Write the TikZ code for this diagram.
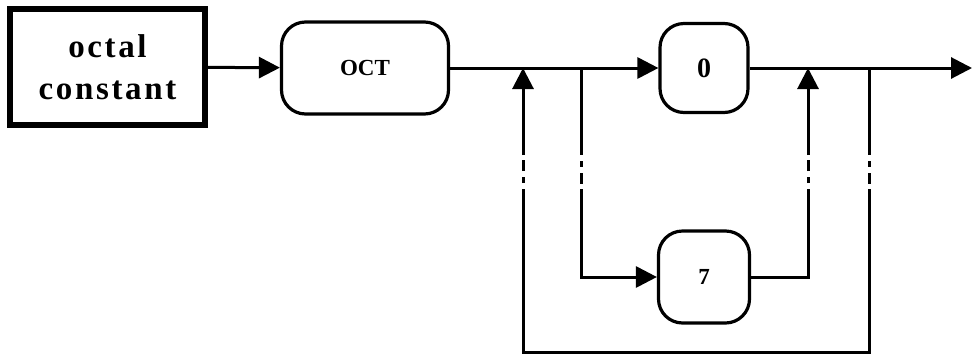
\documentclass[tikz,border=0pt]{standalone}
\usepackage{fontspec}
\setmainfont{Liberation Serif}
\newfontfamily\spacedfont[LetterSpace=8]{Liberation Serif}
\usetikzlibrary{arrows.meta}
\tikzset{
  defbox/.style={draw,line width=5.5pt,minimum width=195pt,minimum height=116pt,align=center,inner sep=0pt,font=\spacedfont\bfseries\fontsize{33}{42}\selectfont},
  term/.style={draw,line width=3.2pt,rounded corners=24pt,inner sep=0pt,font=\bfseries\fontsize{23}{26}\selectfont},
  arr/.style={-{Triangle[length=21pt,width=21pt]},line width=3pt},
  line/.style={line width=3pt},
  gap/.style={line width=3pt,dash pattern=on 0pt off 6pt on 6pt off 6pt on 11pt off 5pt},
}

\begin{document}
\begin{tikzpicture}[x=1pt,y=-1pt]
    \useasboundingbox (0,0) rectangle (973,357);
    % boxes
    \node[defbox] (oc) at (107.5,67) {octal\\constant};
    \node[term,minimum width=167pt,minimum height=92pt] (oct) at (365,68) {OCT};
    \node[term,minimum width=88pt,minimum height=89pt,font=\bfseries\fontsize{28}{30}\selectfont] (zero) at (704,68) {0};
    \node[term,minimum width=91pt,minimum height=92pt] (seven) at (704,277) {7};
    % junctions
    \coordinate (j1) at (523,68);
    \coordinate (j2) at (581,68);
    \coordinate (j3) at (808,68);
    \coordinate (j4) at (869,68);
    \coordinate (out) at (972,68);
    \coordinate (cut1) at (0,155);
    \coordinate (cut2) at (0,189);
    \coordinate (b1) at (523,352);
    \coordinate (b4) at (869,352);
    % main line
    \draw[arr] (oc) -- (oct);
    \draw[line] (oct) -- (j2);
    \draw[arr] (j2) -- (zero);
    \draw[line] (zero) -- (j4);
    \draw[arr] (j4) -- (out);
    % alternative 7
    \draw[line] (j2) -- (j2 |- cut1);
    \draw[gap] (j2 |- cut1) -- (j2 |- cut2);
    \draw[arr] (j2 |- cut2) |- (seven);
    \draw[line] (seven) -| (j3 |- cut2);
    \draw[gap] (j3 |- cut2) -- (j3 |- cut1);
    \draw[arr] (j3 |- cut1) -- (j3);
    % repeat loop
    \draw[line] (j4) -- (j4 |- cut1);
    \draw[gap] (j4 |- cut1) -- (j4 |- cut2);
    \draw[line] (j4 |- cut2) -- (b4) -- (b1) -- (j1 |- cut2);
    \draw[gap] (j1 |- cut2) -- (j1 |- cut1);
    \draw[arr] (j1 |- cut1) -- (j1);
\end{tikzpicture}
\end{document}
